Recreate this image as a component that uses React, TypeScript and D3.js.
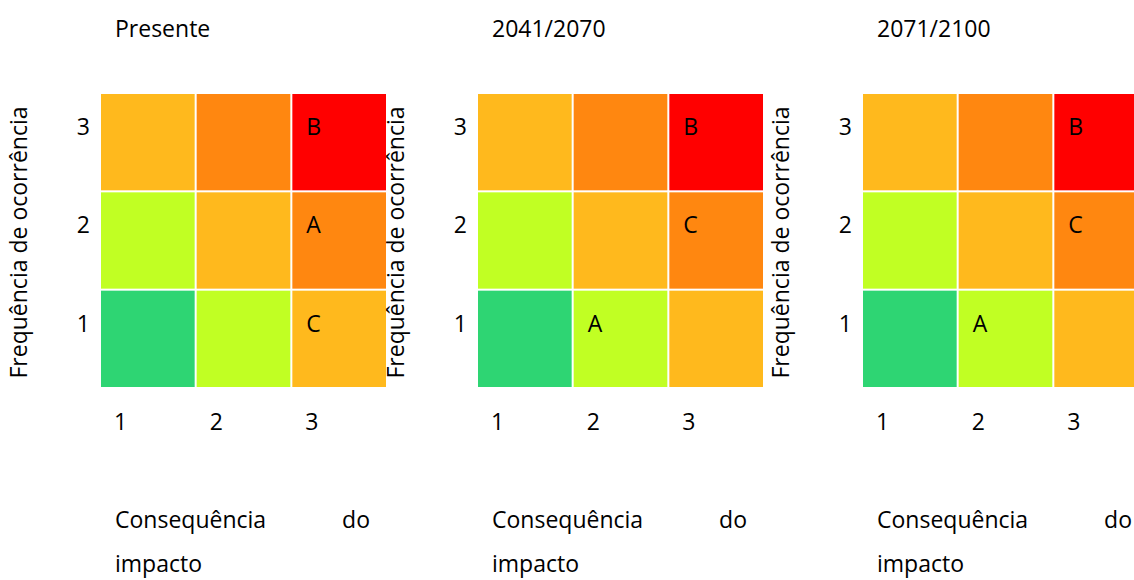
import React from 'react';
import * as d3 from 'd3';

// chart data
const periods = ['Presente', '2041/2070', '2071/2100'];
const consequenceTicks = ['1', '2', '3'];
const frequencyTicks = ['1', '2', '3'];

// risk level index of each cell, rows from frequency 3 (top) down to 1
const riskGrid = [
  [2, 3, 4],
  [1, 2, 3],
  [0, 1, 2],
];
const riskColors = ['#2ED573', '#C1FF23', '#FFB91D', '#FF8710', '#FF0000'];

// markers per period: [label, consequence, frequency]
const presenteMarks = [['A', '3', '2'], ['B', '3', '3'], ['C', '3', '1']];
const mid2041Marks = [['A', '2', '1'], ['B', '3', '3'], ['C', '3', '2']];
const end2071Marks = [['A', '2', '1'], ['B', '3', '3'], ['C', '3', '2']];
const periodMarks = [presenteMarks, mid2041Marks, end2071Marks];

const yLabel = 'Frequência de ocorrência';
const xLabelTop = ['Consequência', 'do'];
const xLabelBottom = 'impacto';

const W = 1134;
const H = 580;
const panelLeft = [101, 478, 863];
const font = '"Open Sans", sans-serif';
const fs = 23;

const Panel = ({ idx }: { idx: number }) => {
  const x0 = panelLeft[idx];
  const x = d3.scaleBand<string>()
    .domain(consequenceTicks)
    .range([x0, x0 + 285])
    .paddingInner(0.021);
  const y = d3.scaleBand<string>()
    .domain([...frequencyTicks].reverse())
    .range([94, 387])
    .paddingInner(0.0205);

  const rows = [...frequencyTicks].reverse();
  const labelX = x0 - 74;
  const labelY = (94 + 387) / 2 + 2;

  return (
    <g>
      <text x={x0 + 14} y={37} fontSize={fs}>{periods[idx]}</text>

      {rows.map((f, ri) =>
        consequenceTicks.map((c, ci) => (
          <rect
            key={f + c}
            x={x(c)}
            y={y(f)}
            width={x.bandwidth()}
            height={y.bandwidth()}
            fill={riskColors[riskGrid[ri][ci]]}
          />
        ))
      )}

      {periodMarks[idx].map(([lab, c, f]) => (
        <text key={lab} x={(x(c) as number) + 14} y={(y(f) as number) + 41} fontSize={fs}>{lab}</text>
      ))}

      {frequencyTicks.map(f => (
        <text key={f} x={x0 - 11} y={(y(f) as number) + 41} fontSize={fs} textAnchor="end">{f}</text>
      ))}

      {consequenceTicks.map(c => (
        <text key={c} x={(x(c) as number) + 13} y={430} fontSize={fs}>{c}</text>
      ))}

      <text
        transform={`translate(${labelX},${labelY}) rotate(-90)`}
        textAnchor="middle"
        fontSize={fs}
      >{yLabel}</text>

      <text x={x0 + 14} y={528} fontSize={fs}>{xLabelTop[0]}</text>
      <text x={x0 + 269} y={528} fontSize={fs} textAnchor="end">{xLabelTop[1]}</text>
      <text x={x0 + 14} y={572} fontSize={fs}>{xLabelBottom}</text>
    </g>
  );
};

export default function App() {
  return (
    <svg
      width={W}
      height={H}
      style={{ position: 'absolute', left: 0, top: 0, background: '#fff' }}
      fontFamily={font}
      fill="#000"
    >
      {periods.map((p, i) => <Panel key={p} idx={i} />)}
    </svg>
  );
}
